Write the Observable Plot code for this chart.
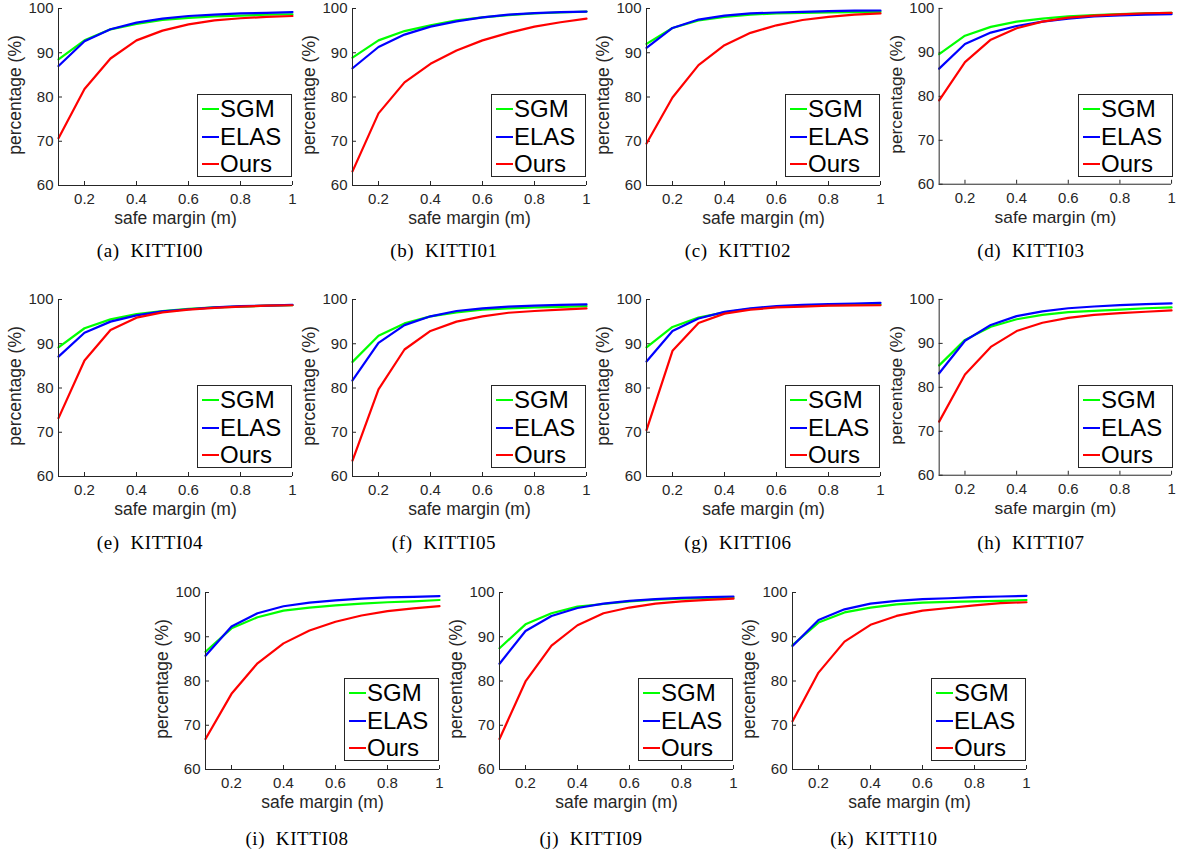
<!DOCTYPE html>
<html>
<head>
<meta charset="utf-8">
<script src="https://cdn.jsdelivr.net/npm/d3@7"></script>
<script src="https://cdn.jsdelivr.net/npm/@observablehq/plot@0.6"></script>
<style>
  html, body { margin: 0; padding: 0; background: #fff; }
  #page { position: relative; width: 1181px; height: 856px; overflow: hidden; background: #fff; }
  .panel { position: absolute; }
  .legend { position: absolute; width: 95px; height: 83px; border: 1px solid #262626; background: #fff; box-sizing: border-box; font-family: "Liberation Sans", Arial, sans-serif; font-size: 24px; color: #000; }
  .legend .row { position: absolute; left: 0; right: 0; height: 28px; line-height: 28px; }
  .legend .sw { position: absolute; left: 4px; width: 17px; height: 2.2px; top: 13px; }
  .legend .lab { position: absolute; left: 22px; top: 0; }
  .caption { position: absolute; width: 200px; text-align: center; font-family: "Liberation Serif", "Times New Roman", serif; font-size: 19px; color: #000; letter-spacing: 0.6px; white-space: pre; line-height: 24px; }
</style>
</head>
<body>
<div id="page"></div>
<script>
// ---- data ----
const margins = [0.1, 0.2, 0.3, 0.4, 0.5, 0.6, 0.7, 0.8, 0.9, 1.0];
const letters = ["a", "b", "c", "d", "e", "f", "g", "h", "i", "j", "k"];
const sequences = ["KITTI00", "KITTI01", "KITTI02", "KITTI03", "KITTI04", "KITTI05", "KITTI06", "KITTI07", "KITTI08", "KITTI09", "KITTI10"];
const methods = ["SGM", "ELAS", "Ours"];
const methodColors = ["#00ff00", "#0000ff", "#ff0000"];
const xTicks = [0.2, 0.4, 0.6, 0.8, 1];
const yTicks = [60, 70, 80, 90, 100];

const sgmValues = [
  [88.5, 92.8, 95.3, 96.5, 97.4, 97.9, 98.2, 98.4, 98.6, 98.7],
  [88.9, 92.8, 94.9, 96.2, 97.3, 98.0, 98.5, 98.9, 99.1, 99.3],
  [92.0, 95.6, 97.3, 98.1, 98.6, 98.9, 99.0, 99.1, 99.2, 99.25],
  [89.6, 93.8, 95.8, 97.0, 97.7, 98.2, 98.5, 98.7, 98.9, 99.0],
  [89.2, 93.5, 95.5, 96.7, 97.4, 97.9, 98.2, 98.4, 98.6, 98.7],
  [85.9, 91.8, 94.6, 96.2, 97.1, 97.7, 98.0, 98.2, 98.35, 98.5],
  [89.2, 93.8, 95.9, 97.1, 97.9, 98.3, 98.6, 98.7, 98.8, 98.9],
  [85.0, 90.8, 93.8, 95.5, 96.5, 97.1, 97.4, 97.7, 98.0, 98.2],
  [86.6, 91.9, 94.4, 95.9, 96.6, 97.1, 97.5, 97.8, 98.0, 98.3],
  [87.4, 92.8, 95.3, 96.8, 97.4, 98.0, 98.4, 98.6, 98.7, 98.8],
  [88.1, 93.2, 95.5, 96.6, 97.3, 97.7, 97.9, 98.0, 98.1, 98.3]
];
const elasValues = [
  [87.0, 92.6, 95.3, 96.8, 97.7, 98.3, 98.6, 98.9, 99.0, 99.2],
  [86.5, 91.3, 94.1, 95.9, 97.1, 98.0, 98.6, 98.95, 99.2, 99.3],
  [91.1, 95.6, 97.5, 98.4, 98.9, 99.1, 99.25, 99.4, 99.5, 99.55],
  [86.3, 91.9, 94.5, 96.0, 97.0, 97.7, 98.2, 98.4, 98.6, 98.7],
  [87.1, 92.5, 95.0, 96.4, 97.3, 97.8, 98.2, 98.5, 98.6, 98.8],
  [81.7, 90.2, 94.2, 96.2, 97.4, 98.0, 98.4, 98.6, 98.8, 98.9],
  [86.0, 92.9, 95.7, 97.2, 98.0, 98.5, 98.8, 98.95, 99.1, 99.25],
  [83.2, 90.6, 94.2, 96.2, 97.3, 98.0, 98.4, 98.7, 98.95, 99.1],
  [85.7, 92.3, 95.3, 96.9, 97.7, 98.2, 98.6, 98.9, 99.0, 99.2],
  [83.9, 91.3, 94.7, 96.5, 97.5, 98.1, 98.5, 98.8, 98.95, 99.1],
  [87.9, 93.8, 96.2, 97.5, 98.1, 98.5, 98.7, 98.95, 99.1, 99.25]
];
const oursValues = [
  [70.7, 81.8, 88.7, 92.8, 95.0, 96.4, 97.3, 97.8, 98.1, 98.3],
  [63.2, 76.3, 83.3, 87.5, 90.5, 92.8, 94.5, 95.9, 96.9, 97.7],
  [69.5, 79.9, 87.2, 91.7, 94.5, 96.2, 97.4, 98.1, 98.6, 98.9],
  [79.1, 87.8, 92.9, 95.5, 97.0, 97.9, 98.35, 98.65, 98.9, 99.0],
  [73.2, 86.2, 93.1, 95.9, 97.1, 97.7, 98.1, 98.4, 98.6, 98.7],
  [63.6, 79.7, 88.7, 92.9, 95.0, 96.2, 97.0, 97.4, 97.7, 98.0],
  [70.5, 88.4, 94.7, 96.8, 97.7, 98.2, 98.4, 98.6, 98.65, 98.7],
  [72.2, 82.9, 89.2, 92.8, 94.7, 95.8, 96.5, 96.9, 97.2, 97.5],
  [66.9, 77.1, 84.0, 88.5, 91.4, 93.4, 94.8, 95.8, 96.4, 96.9],
  [66.9, 79.9, 88.0, 92.6, 95.3, 96.6, 97.5, 98.0, 98.35, 98.6],
  [70.9, 81.9, 88.9, 92.7, 94.7, 95.9, 96.5, 97.1, 97.6, 97.8]
];
const seriesValues = [sgmValues, elasValues, oursValues];

// ---- layout ----
const frameLefts = [58, 352, 646, 939, 58, 352, 646, 939, 205, 499, 792];
const frameTops = [8, 8, 8, 8, 299, 299, 299, 299, 592, 592, 592];
const captionYs = [251, 251, 251, 251, 543, 543, 543, 543, 839, 839, 839];
const FW = 234, FH = 177;
const ML = 50, MR = 10, MT = 8, MB = 50;
const axisColor = "#262626";
const page = document.getElementById("page");

sequences.forEach((seq, p) => {
  const rows = [];
  methods.forEach((m, k) => {
    margins.forEach((x, i) => rows.push({method: m, margin: x, value: seriesValues[k][p][i]}));
  });

  const chart = Plot.plot({
    width: ML + FW + MR,
    height: MT + FH + MB,
    marginLeft: ML, marginRight: MR, marginTop: MT, marginBottom: MB,
    style: {fontFamily: "'Liberation Sans', Arial, sans-serif", fontSize: "15px", color: axisColor, background: "transparent", overflow: "visible"},
    x: {domain: [0.1, 1]},
    y: {domain: [60, 100]},
    color: {domain: methods, range: methodColors},
    marks: [
      Plot.axisX(xTicks, {tickSize: 0, tickPadding: 8, label: null, fontSize: 15, tickFormat: d => d === 1 ? "1" : d.toFixed(1)}),
      Plot.axisY(yTicks, {tickSize: 0, tickPadding: 5, label: null, fontSize: 15}),
      Plot.tickX(xTicks, {x: d => d, insetTop: FH - 4, stroke: axisColor}),
      Plot.tickY(yTicks, {y: d => d, insetRight: FW - 4, stroke: axisColor}),
      Plot.line(rows, {x: "margin", y: "value", z: "method", stroke: "method", strokeWidth: 2.2}),
      Plot.ruleX([0.1], {stroke: axisColor, strokeWidth: 1}),
      Plot.ruleY([60], {stroke: axisColor, strokeWidth: 1}),
      Plot.text(["safe margin (m)"], {text: d => d, frameAnchor: "bottom", lineAnchor: "middle", textAnchor: "middle", dy: 33, fontSize: 17.5, fill: axisColor}),
      Plot.text(["percentage (%)"], {text: d => d, frameAnchor: "left", lineAnchor: "middle", textAnchor: "middle", dx: -43, dy: -2, rotate: -90, fontSize: 17.5, fill: axisColor})
    ]
  });

  const wrap = document.createElement("div");
  wrap.className = "panel";
  wrap.style.left = (frameLefts[p] - ML) + "px";
  wrap.style.top = (frameTops[p] - MT) + "px";
  wrap.appendChild(chart);
  page.appendChild(wrap);

  // legend
  const lg = document.createElement("div");
  lg.className = "legend";
  lg.style.left = (frameLefts[p] + FW - 95) + "px";
  lg.style.top = (frameTops[p] + FH - 8 - 83) + "px";
  const centers = [14, 42, 69];
  methods.forEach((m, k) => {
    const r = document.createElement("div");
    r.className = "row";
    r.style.top = (centers[k] - 14) + "px";
    const sw = document.createElement("div");
    sw.className = "sw";
    sw.style.background = methodColors[k];
    const lab = document.createElement("div");
    lab.className = "lab";
    lab.textContent = m;
    r.appendChild(sw); r.appendChild(lab);
    lg.appendChild(r);
  });
  page.appendChild(lg);

  // caption
  const cap = document.createElement("div");
  cap.className = "caption";
  cap.textContent = "(" + letters[p] + ")  " + seq;
  cap.style.left = (frameLefts[p] + FW / 2 - 25 - 100) + "px";
  cap.style.top = (captionYs[p] - 12) + "px";
  page.appendChild(cap);
});
</script>
</body>
</html>
